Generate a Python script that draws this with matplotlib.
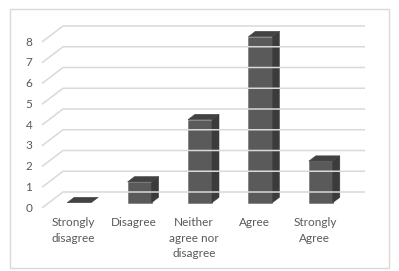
import matplotlib
matplotlib.use("Agg")
import matplotlib.pyplot as plt
from matplotlib.patches import Polygon, Rectangle

categories = ["Strongly\ndisagree", "Disagree", "Neither\nagree nor\ndisagree", "Agree", "Strongly\nAgree"]
values = [0, 1, 4, 8, 2]
yticks = [0, 1, 2, 3, 4, 5, 6, 7, 8]

W, H = 399, 271
fig = plt.figure(figsize=(W / 100, H / 100), dpi=100)
ax = fig.add_axes([0, 0, 1, 1])
px_cat = 60.4
px_val = 20.75
x0_px, y0_px = 42, 208
ax.set_xlim(-x0_px / px_cat, (W - x0_px) / px_cat)
ax.set_ylim((y0_px - H) / px_val, y0_px / px_val)
ax.axis("off")

# depth offset (full depth of the plot) in data units
DX = 21 / px_cat
DY = 16 / px_val
n = len(categories)

grid_c = "#d9d9d9"
text_c = "#595959"

# outer frame
fig.patches.append(Rectangle((10 / W, 1 - 268 / H), (389 - 10) / W, (268 - 9) / H,
                             transform=fig.transFigure, fill=False, ec="#d9d9d9", lw=1))

for v in yticks:
    ax.plot([0, DX, n + DX], [v, v + DY, v + DY], color=grid_c, lw=1.1, solid_capstyle="butt")
    ax.text(-13 / px_cat, v, str(v), ha="center", va="center", fontsize=8.5,
            color=text_c, family="Lato")

bw = 24 / px_cat
d1, d2 = 1 / 3, 2 / 3
front_c, side_c, top_c = "#5a5a5a", "#3b3b3b", "#424242"
for i, v in enumerate(values):
    cx = i + 0.5
    xl = cx - bw / 2 + DX * d1
    xr = cx + bw / 2 + DX * d1
    yb = DY * d1
    ddx = DX * (d2 - d1)
    ddy = DY * (d2 - d1)
    yt = yb + v
    if v > 0:
        ax.add_patch(Polygon([(xl, yb), (xr, yb), (xr, yt), (xl, yt)], closed=True,
                             fc=front_c, ec="#6a6a6a", lw=0.4))
        ax.add_patch(Polygon([(xr, yb), (xr + ddx, yb + ddy), (xr + ddx, yt + ddy), (xr, yt)],
                             closed=True, fc=side_c, ec=side_c, lw=0.4))
    ax.add_patch(Polygon([(xl, yt), (xr, yt), (xr + ddx, yt + ddy), (xl + ddx, yt + ddy)],
                         closed=True, fc=top_c, ec=top_c, lw=0.4))
    ax.text(i + 0.5 + 1 / px_cat, -9 / px_val, categories[i], ha="center", va="top",
            fontsize=8.5, color=text_c, family="Lato", linespacing=1.5)

fig.savefig("out.png", dpi=100, facecolor="white")
